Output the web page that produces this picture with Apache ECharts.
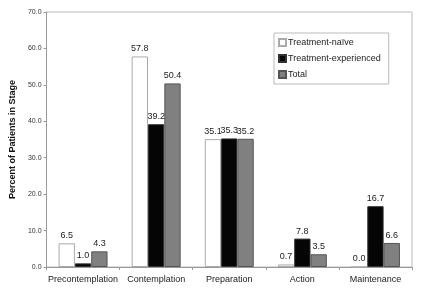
<!DOCTYPE html>
<html>
<head>
<meta charset="utf-8">
<script src="https://cdn.jsdelivr.net/npm/echarts@6/dist/echarts.min.js"></script>
<style>
  html, body { margin: 0; padding: 0; background: #fff; }
  #chart { width: 432px; height: 294px; }
</style>
</head>
<body>
<div id="chart"></div>
<script>
var stages = ['Precontemplation', 'Contemplation', 'Preparation', 'Action', 'Maintenance'];
var naive = [6.5, 57.8, 35.1, 0.7, 0.0];
var experienced = [1.0, 39.2, 35.3, 7.8, 16.7];
var total = [4.3, 50.4, 35.2, 3.5, 6.6];

var font = 'Arial, "Liberation Sans", sans-serif';

function barSeries(name, data, fill, border) {
    return {
        name: name,
        type: 'bar',
        data: data,
        barGap: '0%',
        barCategoryGap: '33%',
        itemStyle: { color: fill, borderColor: border, borderWidth: 1 },
        label: {
            show: true,
            position: 'top',
            distance: 3,
            formatter: function (p) { return p.value.toFixed(1); },
            fontFamily: font,
            fontSize: 9,
            color: '#222'
        }
    };
}

var chart = echarts.init(document.getElementById('chart'), null, { renderer: 'canvas' });

var option = {
    animation: false,
    textStyle: { fontFamily: font },
    grid: { left: 36, right: 20, top: 12, bottom: 27, show: true, borderColor: '#bbb', borderWidth: 1 },
    legend: {
        orient: 'vertical',
        left: 274,
        top: 33,
        padding: [5, 8, 5, 4],
        itemGap: 7,
        itemWidth: 7,
        itemHeight: 7,
        icon: 'rect',
        borderColor: '#bbb',
        borderWidth: 1,
        textStyle: { fontFamily: font, fontSize: 9, color: '#222', padding: [0, 0, 0, -3] },
        data: ['Treatment-naïve', 'Treatment-experienced', 'Total']
    },
    xAxis: {
        type: 'category',
        data: stages,
        axisLine: { lineStyle: { color: '#999' } },
        axisTick: { show: true, alignWithLabel: false, length: 3, lineStyle: { color: '#999' } },
        axisLabel: { interval: 0, fontFamily: font, fontSize: 9, color: '#222', margin: 8 }
    },
    yAxis: {
        type: 'value',
        min: 0,
        max: 70,
        interval: 10,
        name: 'Percent of Patients in Stage',
        nameLocation: 'middle',
        nameGap: 24,
        nameTextStyle: { fontFamily: font, fontSize: 9, fontWeight: 'bold', color: '#111' },
        axisLine: { show: true, lineStyle: { color: '#999' } },
        axisTick: { show: true, length: 3, lineStyle: { color: '#999' } },
        splitLine: { show: false },
        axisLabel: {
            fontFamily: font, fontSize: 7, color: '#333', margin: 5,
            formatter: function (v) { return v.toFixed(1); }
        }
    },
    series: [
        barSeries('Treatment-naïve', naive, '#ffffff', '#aaaaaa'),
        barSeries('Treatment-experienced', experienced, '#050505', '#333333'),
        barSeries('Total', total, '#808080', '#555555')
    ]
};

chart.setOption(option);
</script>
</body>
</html>
